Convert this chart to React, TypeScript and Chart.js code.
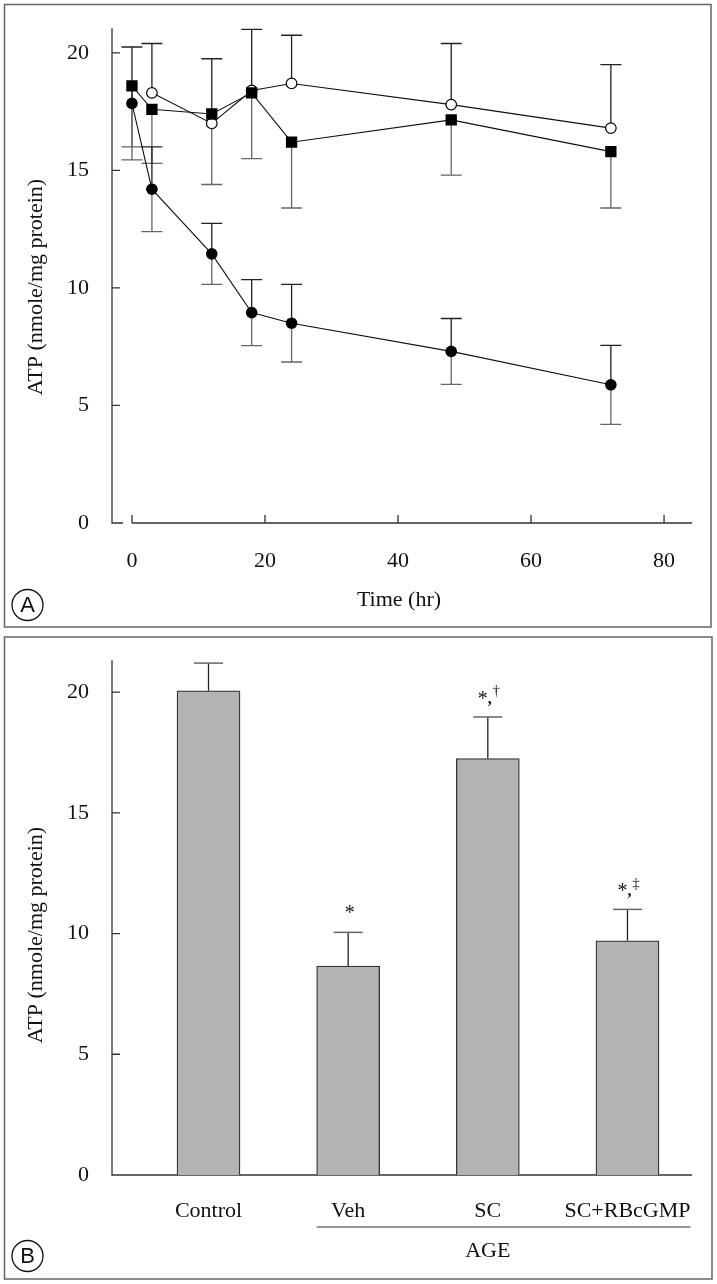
import React, { useEffect, useRef } from 'react';
import { Chart, registerables } from 'chart.js';

Chart.register(...registerables);

// ---------- Panel A data ----------
const timeHours = [0, 3, 12, 18, 24, 48, 72];
const controlTimes = [3, 12, 18, 24, 48, 72];
const controlAtp = [18.3, 17.0, 18.4, 18.7, 17.8, 16.8];
const controlErr = [2.1, 2.75, 2.6, 2.05, 2.6, 2.7];
const ageScAtp = [18.6, 17.6, 17.4, 18.3, 16.2, 17.15, 15.8];
const ageScErr = [2.6, 2.3, 3.0, 2.8, 2.8, 2.35, 2.4];
const ageAtp = [17.85, 14.2, 11.45, 8.95, 8.5, 7.3, 5.88];
const ageErr = [2.4, 1.8, 1.3, 1.4, 1.65, 1.4, 1.68];
const timeTicks = [0, 20, 40, 60, 80];
const atpTicksA = [0, 5, 10, 15, 20];
const xTitleA = 'Time (hr)';
const yTitle = 'ATP (nmole/mg protein)';

// ---------- Panel B data ----------
const groups = ['Control', 'Veh', 'SC', 'SC+RBcGMP'];
const groupAtp = [20.05, 8.65, 17.25, 9.7];
const groupErr = [1.15, 1.4, 1.72, 1.3];
const groupMarks = ['', '*', '*,†', '*,‡'];
const bracketLabel = 'AGE';
const bracketGroups = ['Veh', 'SC', 'SC+RBcGMP'];
const atpTicksB = [0, 5, 10, 15, 20];

const W = 717;
const HA = 632;
const HB = 652;
const SERIF = '"Liberation Serif", "Times New Roman", serif';
const SANS = '"Liberation Sans", Arial, sans-serif';
const FS = 22;

function drawBadge(ctx: CanvasRenderingContext2D, letter: string, cx: number, cy: number) {
  ctx.save();
  ctx.strokeStyle = '#111';
  ctx.lineWidth = 1.3;
  ctx.beginPath();
  ctx.arc(cx, cy, 15.5, 0, Math.PI * 2);
  ctx.stroke();
  ctx.fillStyle = '#111';
  ctx.font = `22px ${SANS}`;
  ctx.textAlign = 'center';
  ctx.textBaseline = 'middle';
  ctx.fillText(letter, cx, cy + 1);
  ctx.restore();
}

function drawBorder(ctx: CanvasRenderingContext2D, x0: number, y0: number, x1: number, y1: number) {
  ctx.save();
  ctx.strokeStyle = '#666';
  ctx.lineWidth = 1.5;
  ctx.strokeRect(x0, y0, x1 - x0, y1 - y0);
  ctx.restore();
}

function drawYTitle(ctx: CanvasRenderingContext2D, x: number, y: number) {
  ctx.save();
  ctx.translate(x, y);
  ctx.rotate(-Math.PI / 2);
  ctx.fillStyle = '#111';
  ctx.font = `${FS}px ${SERIF}`;
  ctx.textAlign = 'center';
  ctx.textBaseline = 'middle';
  ctx.fillText(yTitle, 0, 0);
  ctx.restore();
}

const panelAPlugin = {
  id: 'panelA',
  beforeDatasetsDraw(chart: any) {
    const ctx: CanvasRenderingContext2D = chart.ctx;
    const xs = chart.scales.x;
    const ys = chart.scales.y;
    const { left, right, top, bottom } = chart.chartArea;
    ctx.save();
    ctx.strokeStyle = '#333';
    ctx.lineWidth = 1.3;
    ctx.beginPath();
    ctx.moveTo(left, top);
    ctx.lineTo(left, bottom);
    ctx.lineTo(left + 11, bottom);
    ctx.moveTo(xs.getPixelForValue(timeTicks[0]), bottom);
    ctx.lineTo(right, bottom);
    atpTicksA.forEach((v) => {
      const y = ys.getPixelForValue(v);
      ctx.moveTo(left, y);
      ctx.lineTo(left + 8, y);
    });
    timeTicks.forEach((v) => {
      const x = xs.getPixelForValue(v);
      ctx.moveTo(x, bottom);
      ctx.lineTo(x, bottom - 8);
    });
    ctx.stroke();
    chart.data.datasets.forEach((ds: any) => {
      ds.data.forEach((p: any, i: number) => {
        const e = ds.errors[i];
        const x = xs.getPixelForValue(p.x);
        const yc = ys.getPixelForValue(p.y);
        const ends: [number, string][] = [];
        if (ds.errDir !== 'down') ends.push([ys.getPixelForValue(p.y + e), '#222']);
        if (ds.errDir !== 'up') ends.push([ys.getPixelForValue(p.y - e), '#666']);
        ends.forEach(([ye, col]) => {
          ctx.strokeStyle = col;
          ctx.lineWidth = 1.3;
          ctx.beginPath();
          ctx.moveTo(x, yc);
          ctx.lineTo(x, ye);
          ctx.moveTo(x - 10.5, ye);
          ctx.lineTo(x + 10.5, ye);
          ctx.stroke();
        });
      });
    });
    ctx.restore();
  },
  afterDraw(chart: any) {
    const ctx: CanvasRenderingContext2D = chart.ctx;
    drawBorder(ctx, 4.5, 4.5, 711, 627);
    drawYTitle(ctx, 36, 287);
    ctx.save();
    ctx.fillStyle = '#111';
    ctx.font = `${FS}px ${SERIF}`;
    ctx.textAlign = 'center';
    ctx.textBaseline = 'middle';
    ctx.fillText(xTitleA, 399, 600);
    ctx.restore();
    drawBadge(ctx, 'A', 27.5, 605);
  },
};

function drawMark(ctx: CanvasRenderingContext2D, mark: string, cx: number, yTop: number) {
  if (!mark) return;
  const parts = mark.split(',');
  ctx.save();
  ctx.fillStyle = '#111';
  ctx.textAlign = 'center';
  ctx.textBaseline = 'alphabetic';
  ctx.font = `20px ${SERIF}`;
  if (parts.length === 1) {
    ctx.fillText(parts[0], cx + 1.5, yTop - 23 + 10);
  } else {
    ctx.fillText(parts[0], cx - 5, yTop - 22 + 10);
    ctx.font = `bold 16px ${SERIF}`;
    ctx.fillText(',', cx + 2, yTop - 13);
    ctx.font = `15px ${SERIF}`;
    ctx.fillText(parts[1], cx + 8.5, yTop - 26 + 4.5);
  }
  ctx.restore();
}

const panelBPlugin = {
  id: 'panelB',
  beforeDatasetsDraw(chart: any) {
    const ctx: CanvasRenderingContext2D = chart.ctx;
    const ys = chart.scales.y;
    const { left, right, top, bottom } = chart.chartArea;
    ctx.save();
    ctx.strokeStyle = '#333';
    ctx.lineWidth = 1.3;
    ctx.beginPath();
    ctx.moveTo(left, top);
    ctx.lineTo(left, bottom);
    ctx.lineTo(right, bottom);
    atpTicksB.forEach((v) => {
      if (v === 0) return;
      const y = ys.getPixelForValue(v);
      ctx.moveTo(left, y);
      ctx.lineTo(left + 8, y);
    });
    ctx.stroke();
    ctx.restore();
  },
  afterDatasetsDraw(chart: any) {
    const ctx: CanvasRenderingContext2D = chart.ctx;
    const xs = chart.scales.x;
    const ys = chart.scales.y;
    ctx.save();
    groups.forEach((g, i) => {
      const x = xs.getPixelForValue(i + 1);
      const y0 = ys.getPixelForValue(groupAtp[i]);
      const y1 = ys.getPixelForValue(groupAtp[i] + groupErr[i]);
      ctx.strokeStyle = '#222';
      ctx.lineWidth = 1.3;
      ctx.beginPath();
      ctx.moveTo(x, y0);
      ctx.lineTo(x, y1);
      ctx.stroke();
      ctx.strokeStyle = '#666';
      ctx.lineWidth = 1.5;
      ctx.beginPath();
      ctx.moveTo(x - 14.5, y1);
      ctx.lineTo(x + 14.5, y1);
      ctx.stroke();
      drawMark(ctx, groupMarks[i], x, y1);
    });
    ctx.restore();
  },
  afterDraw(chart: any) {
    const ctx: CanvasRenderingContext2D = chart.ctx;
    const xs = chart.scales.x;
    const { bottom } = chart.chartArea;
    drawBorder(ctx, 4.5, 5, 712, 647);
    drawYTitle(ctx, 36, 303);
    const firstIdx = groups.indexOf(bracketGroups[0]) + 1;
    const lastIdx = groups.indexOf(bracketGroups[bracketGroups.length - 1]) + 1;
    const midIdx = groups.indexOf(bracketGroups[Math.floor(bracketGroups.length / 2)]) + 1;
    ctx.save();
    ctx.font = `${FS}px ${SERIF}`;
    const lastW = ctx.measureText(bracketGroups[bracketGroups.length - 1]).width;
    const xL = xs.getPixelForValue(firstIdx) - 31.5;
    const xR = xs.getPixelForValue(lastIdx) + lastW / 2;
    const yLine = bottom + 52;
    ctx.strokeStyle = '#333';
    ctx.lineWidth = 1.2;
    ctx.beginPath();
    ctx.moveTo(xL, yLine);
    ctx.lineTo(xR, yLine);
    ctx.stroke();
    ctx.fillStyle = '#111';
    ctx.textAlign = 'center';
    ctx.textBaseline = 'middle';
    ctx.fillText(bracketLabel, xs.getPixelForValue(midIdx), yLine + 24);
    ctx.restore();
    drawBadge(ctx, 'B', 27.5, 624);
  },
};

export default function App() {
  const refA = useRef<HTMLCanvasElement>(null);
  const refB = useRef<HTMLCanvasElement>(null);

  useEffect(() => {
    const tickFont = { family: SERIF, size: FS };

    const chartA = new Chart(refA.current as HTMLCanvasElement, {
      type: 'line',
      data: {
        datasets: [
          {
            label: 'AGE+SC',
            data: timeHours.map((t, i) => ({ x: t, y: ageScAtp[i] })),
            errors: ageScErr,
            errDir: 'down',
            borderColor: '#111',
            borderWidth: 1.1,
            backgroundColor: '#000',
            pointStyle: 'rect',
            pointRadius: 8,
            pointBorderWidth: 0,
            pointBackgroundColor: '#000',
            tension: 0,
          } as any,
          {
            label: 'Control',
            data: controlTimes.map((t, i) => ({ x: t, y: controlAtp[i] })),
            errors: controlErr,
            errDir: 'up',
            borderColor: '#111',
            borderWidth: 1.1,
            pointStyle: 'circle',
            pointRadius: 5.3,
            pointBorderWidth: 1.2,
            pointBorderColor: '#000',
            pointBackgroundColor: '#fff',
            tension: 0,
          } as any,
          {
            label: 'AGE',
            data: timeHours.map((t, i) => ({ x: t, y: ageAtp[i] })),
            errors: ageErr,
            errDir: 'both',
            borderColor: '#111',
            borderWidth: 1.1,
            pointStyle: 'circle',
            pointRadius: 5.8,
            pointBorderWidth: 0,
            pointBackgroundColor: '#000',
            tension: 0,
          } as any,
        ],
      },
      options: {
        animation: false,
        responsive: false,
        events: [],
        layout: { padding: { top: 22, right: 25, bottom: 0, left: 0 } },
        plugins: { legend: { display: false }, tooltip: { enabled: false } },
        scales: {
          x: {
            type: 'linear',
            min: -3,
            max: 84.2,
            grid: { display: false },
            border: { display: false },
            afterBuildTicks: (s: any) => {
              s.ticks = timeTicks.map((v) => ({ value: v }));
            },
            afterFit: (s: any) => {
              s.height = HA - 523;
            },
            ticks: { font: tickFont, color: '#111', padding: 17, maxRotation: 0, autoSkip: false },
          },
          y: {
            type: 'linear',
            min: 0,
            max: 21.05,
            grid: { display: false },
            border: { display: false },
            afterBuildTicks: (s: any) => {
              s.ticks = atpTicksA.map((v) => ({ value: v }));
            },
            afterFit: (s: any) => {
              s.width = 112;
            },
            ticks: { font: tickFont, color: '#111', padding: 15 },
          },
        },
      } as any,
      plugins: [panelAPlugin],
    });

    const chartB = new Chart(refB.current as HTMLCanvasElement, {
      type: 'bar',
      data: {
        datasets: [
          {
            label: 'ATP',
            data: groups.map((g, i) => ({ x: i + 1, y: groupAtp[i] })),
            backgroundColor: '#b3b3b3',
            borderColor: '#333',
            borderWidth: 1.3,
            barThickness: 63,
          } as any,
        ],
      },
      options: {
        animation: false,
        responsive: false,
        events: [],
        layout: { padding: { top: 25, right: 25, bottom: 0, left: 0 } },
        plugins: { legend: { display: false }, tooltip: { enabled: false } },
        scales: {
          x: {
            type: 'linear',
            min: 0.309,
            max: 4.462,
            offset: false,
            grid: { display: false },
            border: { display: false },
            afterBuildTicks: (s: any) => {
              s.ticks = groups.map((g, i) => ({ value: i + 1 }));
            },
            afterFit: (s: any) => {
              s.height = HB - 543;
            },
            ticks: {
              font: tickFont,
              color: '#111',
              padding: 15,
              maxRotation: 0,
              autoSkip: false,
              callback: (v: any) => groups[Math.round(Number(v)) - 1] ?? '',
            },
          },
          y: {
            type: 'linear',
            min: 0,
            max: 21.32,
            grid: { display: false },
            border: { display: false },
            afterBuildTicks: (s: any) => {
              s.ticks = atpTicksB.map((v) => ({ value: v }));
            },
            afterFit: (s: any) => {
              s.width = 112;
            },
            ticks: { font: tickFont, color: '#111', padding: 15 },
          },
        },
      } as any,
      plugins: [panelBPlugin],
    });

    return () => {
      chartA.destroy();
      chartB.destroy();
    };
  }, []);

  return (
    <div style={{ position: 'absolute', left: 0, top: 0, width: W, height: HA + HB, background: '#fff' }}>
      <canvas ref={refA} width={W} height={HA} style={{ position: 'absolute', left: 0, top: 0, display: 'block' }} />
      <canvas ref={refB} width={W} height={HB} style={{ position: 'absolute', left: 0, top: HA, display: 'block' }} />
    </div>
  );
}
